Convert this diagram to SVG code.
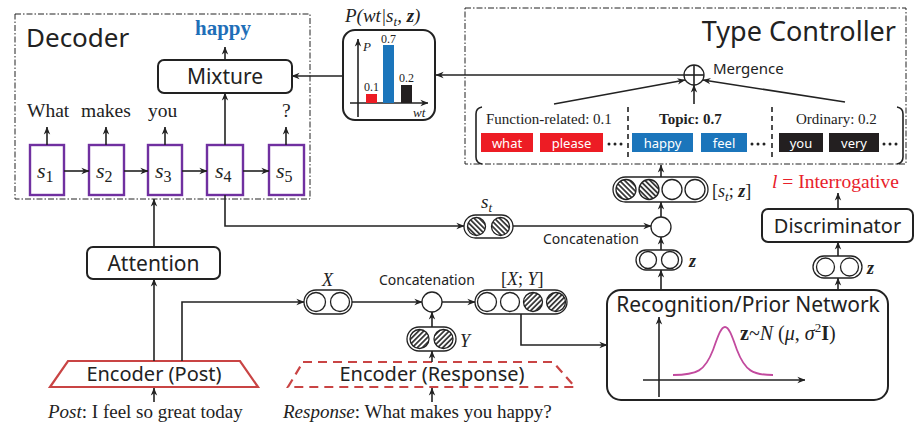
<svg xmlns="http://www.w3.org/2000/svg" width="923" height="432" viewBox="0 0 923 432">
<style>
.ln{fill:none;stroke:#222;stroke-width:1.6}
.arr{fill:none;stroke:#222;stroke-width:1.6;marker-end:url(#ah)}
.dd{fill:none;stroke:#222;stroke-width:1;stroke-dasharray:6 2 1.5 2}
.box{fill:#fff;stroke:#222;stroke-width:2}
.sb{fill:#fff;stroke:#7030a0;stroke-width:2.4}
.pill{fill:#fff;stroke:#222;stroke-width:1.3}
.cir{fill:#fff;stroke:#222;stroke-width:1.3}
.sans{font-family:"Noto Sans","Open Sans",sans-serif;fill:#222}
.ser{font-family:"Liberation Serif","DejaVu Serif",serif;fill:#222}
.mi{font-family:"Liberation Serif","DejaVu Serif",serif;font-style:italic;fill:#222}
.chip{font-family:"Noto Sans","Open Sans",sans-serif;fill:#fff;font-size:13px;text-anchor:middle}
</style>
<defs>
<marker id="ah" viewBox="0 0 10 10" refX="9.5" refY="5" markerWidth="8" markerHeight="8" orient="auto" markerUnits="userSpaceOnUse"><path d="M0,1 L10,5 L0,9 L3,5 z" fill="#222"/></marker>
<pattern id="hf" patternUnits="userSpaceOnUse" width="3.6" height="3.6" patternTransform="rotate(45)"><rect width="3.6" height="3.6" fill="#fff"/><line x1="0.9" y1="0" x2="0.9" y2="3.6" stroke="#222" stroke-width="1.6"/></pattern>
<pattern id="hb" patternUnits="userSpaceOnUse" width="3.6" height="3.6" patternTransform="rotate(-45)"><rect width="3.6" height="3.6" fill="#fff"/><line x1="0.9" y1="0" x2="0.9" y2="3.6" stroke="#222" stroke-width="1.6"/></pattern>
</defs>
<rect width="923" height="432" fill="#fff"/>

<!-- Decoder -->
<g id="decoder">
<rect class="dd" x="15" y="14" width="295" height="185"/>
<text class="sans" x="26" y="47" font-size="26">Decoder</text>
</g>
<g id="happy-out"><text x="195" y="35" font-family="Liberation Serif,serif" font-weight="bold" font-size="21" fill="#1f6fb8">happy</text></g>
<g id="mixture">
<rect class="box" x="158" y="60" width="134" height="33" rx="6"/>
<text class="sans" x="225" y="84" font-size="21" text-anchor="middle">Mixture</text>
</g>
<g id="words">
<text class="ser" x="27" y="117" font-size="19.5">What</text>
<text class="ser" x="81" y="117" font-size="19.5">makes</text>
<text class="ser" x="148" y="117" font-size="19.5">you</text>
<text class="ser" x="282" y="117" font-size="19.5">?</text>
</g>
<g id="s1"><rect class="sb" x="30" y="145" width="34" height="50"/><text class="mi" x="37" y="178" font-size="22">s<tspan font-style="normal" font-size="16" dy="4">1</tspan></text></g>
<g id="s2"><rect class="sb" x="89" y="145" width="35" height="50"/><text class="mi" x="96" y="178" font-size="22">s<tspan font-style="normal" font-size="16" dy="4">2</tspan></text></g>
<g id="s3"><rect class="sb" x="148" y="145" width="34" height="50"/><text class="mi" x="155" y="178" font-size="22">s<tspan font-style="normal" font-size="16" dy="4">3</tspan></text></g>
<g id="s4"><rect class="sb" x="207" y="145" width="36" height="50"/><text class="mi" x="215" y="178" font-size="22">s<tspan font-style="normal" font-size="16" dy="4">4</tspan></text></g>
<g id="s5"><rect class="sb" x="269" y="145" width="35" height="50"/><text class="mi" x="276" y="178" font-size="22">s<tspan font-style="normal" font-size="16" dy="4">5</tspan></text></g>

<!-- Chart -->
<g id="chart">
<text class="mi" x="345" y="22" font-size="19">P(wt|s<tspan font-size="13" dy="4">t</tspan><tspan dy="-4">, </tspan><tspan font-weight="bold">z</tspan>)</text>
<rect class="box" x="343" y="30" width="92" height="90" rx="12" stroke-width="1.5"/>
<line class="arr" x1="358" y1="117" x2="358" y2="39" stroke-width="1.2"/>
<line class="arr" x1="350" y1="103" x2="428" y2="103" stroke-width="1.2"/>
<text class="mi" x="363" y="51" font-size="13">P</text>
<text class="mi" x="413" y="117" font-size="13">wt</text>
<rect x="366" y="94" width="11" height="9" fill="#ed1c24"/>
<rect x="383" y="45" width="11" height="58" fill="#1b75bb"/>
<rect x="401" y="85" width="11" height="18" fill="#231f20"/>
<text class="ser" x="371.5" y="91" font-size="12" text-anchor="middle">0.1</text>
<text class="ser" x="388.5" y="43" font-size="12" text-anchor="middle">0.7</text>
<text class="ser" x="406.5" y="82" font-size="12" text-anchor="middle">0.2</text>
</g>

<!-- Type Controller -->
<g id="type-controller">
<rect class="dd" x="465" y="8" width="441" height="156"/>
<text class="sans" x="896" y="41" font-size="27" text-anchor="end">Type Controller</text>
</g>
<g id="mergence">
<circle class="cir" cx="694" cy="75" r="10" stroke-width="1.6"/>
<line class="ln" x1="684" y1="75" x2="704" y2="75"/>
<line class="ln" x1="694" y1="65" x2="694" y2="85"/>
<text class="sans" x="713" y="74" font-size="15">Mergence</text>
</g>
<g id="word-types">
<path class="ln" d="M482,107 Q476,108 476,114 V157 Q476,163 482,164"/>
<path class="ln" d="M897,107 Q903,108 903,114 V157 Q903,163 897,164"/>
<line x1="628" y1="107" x2="628" y2="157" stroke="#222" stroke-width="1.6" stroke-dasharray="5 4"/>
<line x1="772" y1="107" x2="772" y2="157" stroke="#222" stroke-width="1.6" stroke-dasharray="5 4"/>
<text class="ser" x="486" y="124" font-size="15">Function-related: 0.1</text>
<text class="ser" x="659" y="124" font-size="15" font-weight="bold">Topic: 0.7</text>
<text class="ser" x="796" y="124" font-size="15">Ordinary: 0.2</text>
<rect x="481" y="133" width="52" height="19" fill="#ed1c24"/><text class="chip" x="507" y="147.5">what</text>
<rect x="540" y="133" width="63" height="19" fill="#ed1c24"/><text class="chip" x="571.5" y="147.5">please</text>
<rect x="632" y="133" width="61" height="19" fill="#1b75bb"/><text class="chip" x="662.5" y="147.5">happy</text>
<rect x="701" y="133" width="46" height="19" fill="#1b75bb"/><text class="chip" x="724" y="147.5">feel</text>
<rect x="779" y="133" width="44" height="19" fill="#231f20"/><text class="chip" x="801" y="147.5">you</text>
<rect x="829" y="133" width="50" height="19" fill="#231f20"/><text class="chip" x="854" y="147.5">very</text>
<g fill="#222"><circle cx="609" cy="144" r="1.5"/><circle cx="615" cy="144" r="1.5"/><circle cx="621" cy="144" r="1.5"/>
<circle cx="752" cy="144" r="1.5"/><circle cx="758" cy="144" r="1.5"/><circle cx="764" cy="144" r="1.5"/>
<circle cx="884" cy="144" r="1.5"/><circle cx="890" cy="144" r="1.5"/><circle cx="896" cy="144" r="1.5"/></g>
</g>

<!-- state pills -->
<g id="st">
<rect class="pill" x="464" y="215" width="49" height="23" rx="11.5"/>
<circle cx="476.5" cy="226.5" r="9" fill="url(#hb)" stroke="#222" stroke-width="1.3"/>
<circle cx="500.5" cy="226.5" r="9" fill="url(#hb)" stroke="#222" stroke-width="1.3"/>
<text class="mi" x="481" y="208" font-size="19">s<tspan font-size="13" dy="4">t</tspan></text>
</g>
<g id="concat-top">
<circle class="cir" cx="661" cy="227" r="10" stroke-width="1.6"/>
<text class="sans" x="543" y="244" font-size="14">Concatenation</text>
</g>
<g id="stz">
<rect class="pill" x="613" y="177" width="95" height="25" rx="12.5"/>
<circle cx="626" cy="189.5" r="10" fill="url(#hb)" stroke="#222" stroke-width="1.3"/>
<circle cx="649" cy="189.5" r="10" fill="url(#hb)" stroke="#222" stroke-width="1.3"/>
<circle class="cir" cx="672" cy="189.5" r="10"/>
<circle class="cir" cx="695" cy="189.5" r="10"/>
<text class="ser" x="712" y="197" font-size="18">[<tspan font-style="italic">s</tspan><tspan font-style="italic" font-size="13" dy="4">t</tspan><tspan dy="-4">; </tspan><tspan font-weight="bold" font-style="italic">z</tspan>]</text>
</g>
<g id="z-top">
<rect class="pill" x="636" y="250" width="46" height="20" rx="10"/>
<circle class="cir" cx="648" cy="260" r="8.5"/>
<circle class="cir" cx="670" cy="260" r="8.5"/>
<text class="mi" x="689" y="267" font-size="18" font-weight="bold">z</text>
</g>
<g id="discriminator">
<rect class="box" x="762" y="209" width="151" height="33" rx="6"/>
<text class="sans" x="837.5" y="233" font-size="20" text-anchor="middle">Discriminator</text>
</g>
<g id="label-l"><text x="772" y="188" font-family="Liberation Serif,serif" font-size="19.5" fill="#e8202a"><tspan font-style="italic">l</tspan> = Interrogative</text></g>
<g id="z-right">
<rect class="pill" x="813" y="256" width="49" height="22" rx="11"/>
<circle class="cir" cx="825.5" cy="267" r="9"/>
<circle class="cir" cx="849.5" cy="267" r="9"/>
<text class="mi" x="867" y="274" font-size="18" font-weight="bold">z</text>
</g>
<g id="recognition">
<rect class="box" x="607" y="290" width="281" height="110" rx="14"/>
<text class="sans" x="748" y="312" font-size="21" text-anchor="middle">Recognition/Prior Network</text>
<line class="arr" x1="659" y1="397" x2="659" y2="317" stroke-width="1.3"/>
<line class="arr" x1="643" y1="380" x2="805" y2="380" stroke-width="1.3"/>
<path d="M673,375 C697,375 705,371 713,350 C718,336 721,327 725,327 C729,327 732,336 737,350 C745,371 753,375 773,375" fill="none" stroke="#c24a9e" stroke-width="1.8"/>
<text class="ser" x="740" y="340" font-size="20"><tspan font-weight="bold">z</tspan>~<tspan font-style="italic">N</tspan> (<tspan font-style="italic">μ</tspan>, <tspan font-style="italic">σ</tspan><tspan font-size="13" dy="-8">2</tspan><tspan dy="8" font-weight="bold">I</tspan>)</text>
</g>

<!-- lower middle -->
<g id="x-pill">
<rect class="pill" x="304" y="290" width="48" height="24" rx="12"/>
<circle class="cir" cx="316" cy="302" r="9.5"/>
<circle class="cir" cx="340" cy="302" r="9.5"/>
<text class="mi" x="322" y="286" font-size="18">X</text>
</g>
<g id="concat-bottom">
<circle class="cir" cx="432" cy="302" r="10" stroke-width="1.6"/>
<text class="sans" x="379" y="285" font-size="14">Concatenation</text>
</g>
<g id="xy-pill">
<rect class="pill" x="475" y="290" width="92" height="24" rx="12"/>
<circle class="cir" cx="487" cy="302" r="9.5"/>
<circle class="cir" cx="510" cy="302" r="9.5"/>
<circle cx="533" cy="302" r="9.5" fill="url(#hf)" stroke="#222" stroke-width="1.3"/>
<circle cx="556" cy="302" r="9.5" fill="url(#hf)" stroke="#222" stroke-width="1.3"/>
<text class="ser" x="501" y="285" font-size="18">[<tspan font-style="italic">X</tspan>; <tspan font-style="italic">Y</tspan>]</text>
</g>
<g id="y-pill">
<rect class="pill" x="407" y="327" width="49" height="24" rx="12"/>
<circle cx="419.5" cy="339" r="9.5" fill="url(#hf)" stroke="#222" stroke-width="1.3"/>
<circle cx="443.5" cy="339" r="9.5" fill="url(#hf)" stroke="#222" stroke-width="1.3"/>
<text class="mi" x="460" y="347" font-size="18">Y</text>
</g>
<g id="attention">
<rect class="box" x="87" y="247" width="133" height="32" rx="6"/>
<text class="sans" x="153.5" y="271" font-size="21" text-anchor="middle">Attention</text>
</g>
<g id="encoder-post">
<polygon points="68,361 240,361 258,387 50,387" fill="#fff" stroke="#c94444" stroke-width="2.2"/>
<text class="sans" x="154" y="381" font-size="20" text-anchor="middle">Encoder (Post)</text>
</g>
<g id="encoder-response">
<polygon points="303,362 553,362 575,387 288,387" fill="#fff" stroke="#c94444" stroke-width="2.2" stroke-dasharray="9 6"/>
<text class="sans" x="432" y="381" font-size="20" text-anchor="middle">Encoder (Response)</text>
</g>
<g id="post-text"><text class="ser" x="48" y="418" font-size="19"><tspan font-style="italic">Post</tspan>: I feel so great today</text></g>
<g id="response-text"><text class="ser" x="283" y="418" font-size="19"><tspan font-style="italic">Response</tspan>: What makes you happy?</text></g>

<!-- connectors -->
<g id="connectors">
<line class="arr" x1="225" y1="60" x2="225" y2="47"/>
<line class="arr" x1="343" y1="76" x2="292" y2="76"/>
<line class="arr" x1="684" y1="75" x2="436" y2="75"/>
<line class="arr" x1="47" y1="145" x2="47" y2="127"/>
<line class="arr" x1="106" y1="145" x2="106" y2="127"/>
<line class="arr" x1="165" y1="145" x2="165" y2="127"/>
<line class="arr" x1="286" y1="145" x2="286" y2="127"/>
<line class="arr" x1="225" y1="145" x2="225" y2="93"/>
<line class="arr" x1="64" y1="171" x2="89" y2="171"/>
<line class="arr" x1="124" y1="171" x2="148" y2="171"/>
<line class="arr" x1="182" y1="171" x2="207" y2="171"/>
<line class="arr" x1="243" y1="171" x2="269" y2="171"/>
<line class="arr" x1="554" y1="104" x2="685" y2="80"/>
<line class="arr" x1="694" y1="104" x2="694" y2="85"/>
<line class="arr" x1="845" y1="102" x2="703" y2="80"/>
<line class="arr" x1="661" y1="177" x2="661" y2="165"/>
<line class="arr" x1="661" y1="217" x2="661" y2="202"/>
<line class="arr" x1="661" y1="250" x2="661" y2="237"/>
<line class="arr" x1="661" y1="290" x2="661" y2="270"/>
<line class="arr" x1="838" y1="209" x2="838" y2="193"/>
<line class="arr" x1="838" y1="256" x2="838" y2="242"/>
<line class="arr" x1="838" y1="290" x2="838" y2="278"/>
<line class="arr" x1="513" y1="226" x2="651" y2="226"/>
<polyline class="arr" points="225,195 225,226 464,226"/>
<line class="arr" x1="154" y1="247" x2="154" y2="199"/>
<line class="arr" x1="154" y1="361" x2="154" y2="279"/>
<polyline class="arr" points="182,361 182,302 304,302"/>
<line class="arr" x1="352" y1="302" x2="422" y2="302"/>
<line class="arr" x1="442" y1="302" x2="475" y2="302"/>
<line class="arr" x1="432" y1="327" x2="432" y2="312"/>
<line class="arr" x1="432" y1="362" x2="432" y2="351"/>
<polyline class="arr" points="521,314 521,345 607,345"/>
<line class="arr" x1="154" y1="402" x2="154" y2="388"/>
<line class="arr" x1="432" y1="402" x2="432" y2="388"/>
</g>
</svg>
